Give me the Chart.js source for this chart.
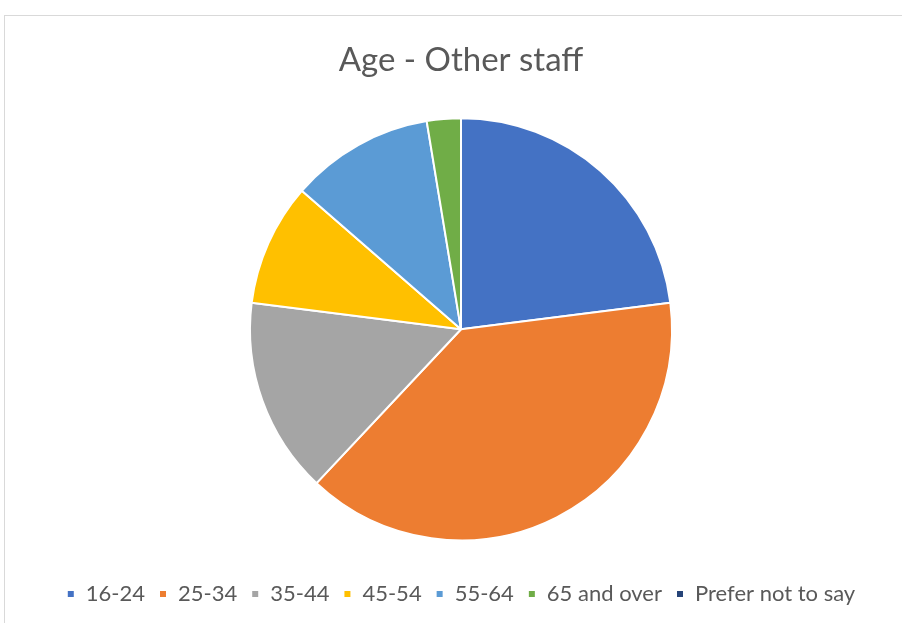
<!DOCTYPE html>
<html>
<head>
<meta charset="utf-8">
<script src="https://cdn.jsdelivr.net/npm/chart.js@4"></script>
<style>
  html, body { margin: 0; padding: 0; background: #fff; }
  body { width: 902px; height: 623px; position: relative; overflow: hidden; }
  .frame {
    position: absolute; left: 4px; top: 15px; width: 1000px; height: 700px;
    border: 1px solid #d9d9d9;
  }
  #wrap { position: absolute; left: 0; top: 0; width: 902px; height: 623px; }
</style>
</head>
<body>
<div class="frame"></div>
<div id="wrap"><canvas id="ageChart"></canvas></div>
<script>
const ageGroups = ["16-24", "25-34", "35-44", "45-54", "55-64", "65 and over", "Prefer not to say"];
const staffShare = [23, 39, 15, 9.4, 11, 2.6, 0];
const sliceColours = ["#4472C4", "#ED7D31", "#A5A5A5", "#FFC000", "#5B9BD5", "#70AD47", "#264478"];

const ctx = document.getElementById("ageChart").getContext("2d");

new Chart(ctx, {
  type: "pie",
  data: {
    labels: ageGroups,
    datasets: [
      {
        data: staffShare,
        backgroundColor: sliceColours,
        borderColor: "#fff",
        borderWidth: 2,
        radius: 211,
      },
    ],
  },
  options: {
    responsive: true,
    maintainAspectRatio: false,
    animation: false,
    layout: {
      padding: { left: 20, right: 0, top: 0, bottom: 8 },
    },
    plugins: {
      title: {
        display: true,
        text: "Age - Other staff",
        color: "#595959",
        font: { family: "Lato", size: 33, weight: "normal" },
        padding: { top: 41, bottom: 9 },
      },
      legend: {
        position: "bottom",
        labels: {
          color: "#595959",
          font: { family: "Lato", size: 22 },
          boxWidth: 8,
          boxHeight: 8,
          padding: 14,
        },
      },
      tooltip: { enabled: false },
    },
  },
});
</script>
</body>
</html>
